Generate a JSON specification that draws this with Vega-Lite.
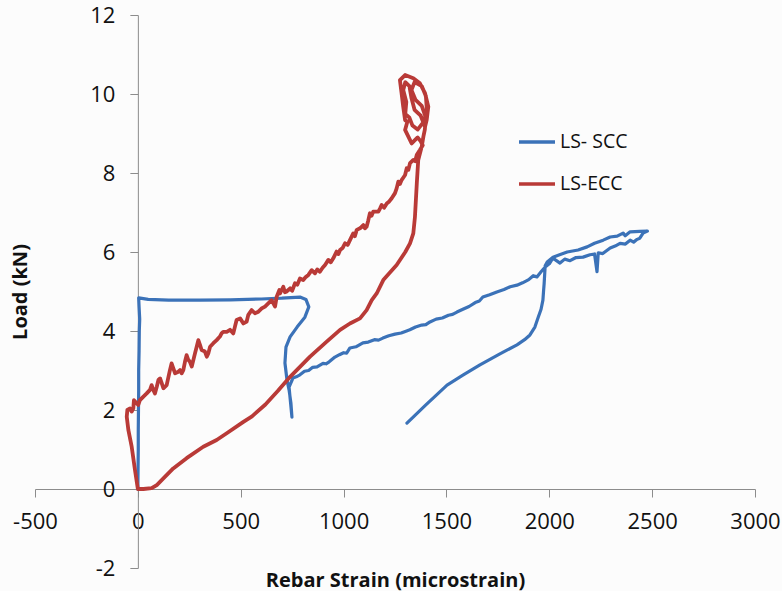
{
  "$schema": "https://vega.github.io/schema/vega-lite/v6.json",
  "width": 720,
  "height": 553,
  "autosize": {"type": "none"},
  "padding": {"left": 35, "top": 15, "right": 27, "bottom": 23},
  "background": "#fcfcfc",
  "config": {"view": {"stroke": null}, "font": "Open Sans"},
  "datasets": {
    "scc": [
      {"strain":0,"load":0},{"strain":1,"load":0.5},{"strain":2,"load":1.0},{"strain":2,"load":1.5},{"strain":3,"load":2.0},{"strain":4,"load":2.5},{"strain":4,"load":3.0},{"strain":6,"load":3.5},{"strain":7,"load":4.0},{"strain":9,"load":4.3},{"strain":6,"load":4.6},{"strain":4,"load":4.84},
      {"strain":50,"load":4.80},{"strain":150,"load":4.78},{"strain":300,"load":4.78},{"strain":450,"load":4.79},{"strain":600,"load":4.81},{"strain":700,"load":4.83},{"strain":788,"load":4.86},{"strain":817,"load":4.80},{"strain":831,"load":4.61},{"strain":812,"load":4.35},{"strain":774,"load":4.10},{"strain":740,"load":3.85},{"strain":720,"load":3.59},{"strain":715,"load":3.19},{"strain":725,"load":2.76},{"strain":735,"load":2.51},{"strain":744,"load":2.18},{"strain":749,"load":1.82},{"strain":742,"load":2.2},{"strain":735,"load":2.58},{"strain":754,"load":2.81},{"strain":770,"load":2.84},{"strain":788,"load":2.89},{"strain":810,"load":2.98},{"strain":830,"load":3.0},{"strain":850,"load":3.08},{"strain":871,"load":3.09},{"strain":900,"load":3.18},{"strain":915,"load":3.17},{"strain":930,"load":3.22},{"strain":958,"load":3.34},{"strain":980,"load":3.40},{"strain":1000,"load":3.45},{"strain":1015,"load":3.44},{"strain":1031,"load":3.57},{"strain":1060,"load":3.60},{"strain":1094,"load":3.70},{"strain":1120,"load":3.72},{"strain":1150,"load":3.78},{"strain":1170,"load":3.77},{"strain":1191,"load":3.82},{"strain":1220,"load":3.88},{"strain":1250,"load":3.92},{"strain":1280,"load":3.95},{"strain":1300,"load":3.99},{"strain":1322,"load":4.03},{"strain":1350,"load":4.10},{"strain":1380,"load":4.15},{"strain":1400,"load":4.16},{"strain":1420,"load":4.23},{"strain":1450,"load":4.30},{"strain":1480,"load":4.33},{"strain":1510,"load":4.40},{"strain":1530,"load":4.42},{"strain":1551,"load":4.48},{"strain":1580,"load":4.55},{"strain":1610,"load":4.62},{"strain":1640,"load":4.72},{"strain":1660,"load":4.76},{"strain":1677,"load":4.86},{"strain":1710,"load":4.92},{"strain":1745,"load":4.99},{"strain":1780,"load":5.05},{"strain":1810,"load":5.12},{"strain":1843,"load":5.16},{"strain":1870,"load":5.22},{"strain":1900,"load":5.30},{"strain":1922,"load":5.40},{"strain":1940,"load":5.37},{"strain":1960,"load":5.50},{"strain":1980,"load":5.62},{"strain":2000,"load":5.70},{"strain":2018,"load":5.85},{"strain":2035,"load":5.78},{"strain":2052,"load":5.72},{"strain":2075,"load":5.82},{"strain":2101,"load":5.78},{"strain":2130,"load":5.86},{"strain":2164,"load":5.87},{"strain":2198,"load":5.93},{"strain":2220,"load":5.95},{"strain":2232,"load":5.50},{"strain":2238,"load":5.98},{"strain":2260,"load":5.96},{"strain":2296,"load":6.10},{"strain":2320,"load":6.15},{"strain":2344,"load":6.22},{"strain":2370,"load":6.20},{"strain":2393,"load":6.30},{"strain":2410,"load":6.25},{"strain":2427,"load":6.32},{"strain":2440,"load":6.35},{"strain":2456,"load":6.48},{"strain":2477,"load":6.53},{"strain":2440,"load":6.52},{"strain":2393,"load":6.51},{"strain":2369,"load":6.41},{"strain":2359,"load":6.48},{"strain":2330,"load":6.40},{"strain":2296,"load":6.38},{"strain":2262,"load":6.30},{"strain":2220,"load":6.22},{"strain":2184,"load":6.13},{"strain":2140,"load":6.05},{"strain":2087,"load":6.0},{"strain":2050,"load":5.93},{"strain":2018,"load":5.87},{"strain":1990,"load":5.75},{"strain":1980,"load":5.65},{"strain":1978,"load":5.47},{"strain":1975,"load":5.2},{"strain":1972,"load":5.0},{"strain":1969,"load":4.78},{"strain":1960,"load":4.55},{"strain":1945,"load":4.33},{"strain":1930,"load":4.10},{"strain":1906,"load":3.90},{"strain":1880,"load":3.78},{"strain":1843,"load":3.65},{"strain":1760,"load":3.42},{"strain":1663,"load":3.14},{"strain":1580,"load":2.88},{"strain":1503,"load":2.63},{"strain":1400,"load":2.13},{"strain":1308,"load":1.67}
    ],
    "ecc": [
      {"strain":0,"load":0},{"strain":-14,"load":0.48},{"strain":-30,"load":1.07},{"strain":-46,"load":1.49},{"strain":-54,"load":1.83},{"strain":-51,"load":2.0},{"strain":-38,"load":2.04},{"strain":-30,"load":1.96},{"strain":-22,"load":2.04},{"strain":-19,"load":2.25},{"strain":-6,"load":2.17},{"strain":2,"load":2.13},{"strain":10,"load":2.25},{"strain":27,"load":2.34},{"strain":43,"load":2.42},{"strain":59,"load":2.51},{"strain":67,"load":2.63},{"strain":75,"load":2.51},{"strain":83,"load":2.42},{"strain":92,"load":2.59},{"strain":100,"load":2.76},{"strain":108,"load":2.80},{"strain":116,"load":2.68},{"strain":124,"load":2.55},{"strain":140,"load":2.63},{"strain":156,"load":3.01},{"strain":164,"load":3.18},{"strain":172,"load":3.06},{"strain":181,"load":2.93},{"strain":197,"load":2.97},{"strain":205,"load":3.01},{"strain":213,"load":2.93},{"strain":221,"load":3.01},{"strain":229,"load":3.22},{"strain":237,"load":3.39},{"strain":245,"load":3.27},{"strain":253,"load":3.22},{"strain":262,"load":3.10},{"strain":270,"load":3.27},{"strain":278,"load":3.44},{"strain":286,"load":3.60},{"strain":294,"load":3.77},{"strain":302,"load":3.65},{"strain":310,"load":3.52},{"strain":326,"load":3.48},{"strain":335,"load":3.35},{"strain":343,"load":3.44},{"strain":351,"load":3.60},{"strain":367,"load":3.69},{"strain":383,"load":3.77},{"strain":399,"load":3.86},{"strain":407,"load":3.94},{"strain":415,"load":3.98},{"strain":432,"load":3.98},{"strain":448,"load":4.03},{"strain":464,"load":3.94},{"strain":472,"load":4.11},{"strain":480,"load":4.28},{"strain":497,"load":4.32},{"strain":513,"load":4.19},{"strain":529,"load":4.24},{"strain":537,"load":4.41},{"strain":553,"load":4.53},{"strain":569,"load":4.45},{"strain":586,"load":4.49},{"strain":602,"load":4.57},{"strain":618,"load":4.62},{"strain":634,"load":4.70},{"strain":650,"load":4.78},{"strain":667,"load":4.62},{"strain":675,"load":4.87},{"strain":688,"load":5.04},{"strain":691,"load":4.95},{"strain":707,"load":5.12},{"strain":715,"load":4.98},{"strain":723,"load":5.0},{"strain":740,"load":5.08},{"strain":750,"load":5.02},{"strain":764,"load":5.21},{"strain":775,"load":5.17},{"strain":788,"load":5.33},{"strain":804,"load":5.29},{"strain":815,"load":5.36},{"strain":829,"load":5.42},{"strain":845,"load":5.54},{"strain":861,"load":5.46},{"strain":872,"load":5.56},{"strain":885,"load":5.50},{"strain":898,"load":5.60},{"strain":910,"load":5.67},{"strain":926,"load":5.80},{"strain":938,"load":5.74},{"strain":950,"load":5.84},{"strain":966,"load":6.01},{"strain":975,"load":5.95},{"strain":983,"load":6.05},{"strain":995,"load":6.10},{"strain":1007,"load":6.22},{"strain":1020,"load":6.18},{"strain":1031,"load":6.30},{"strain":1047,"load":6.47},{"strain":1055,"load":6.40},{"strain":1064,"load":6.56},{"strain":1080,"load":6.60},{"strain":1096,"load":6.68},{"strain":1104,"load":6.60},{"strain":1112,"load":6.64},{"strain":1120,"load":6.80},{"strain":1128,"load":6.98},{"strain":1136,"load":6.92},{"strain":1144,"load":7.02},{"strain":1169,"load":7.02},{"strain":1177,"load":7.10},{"strain":1185,"load":7.19},{"strain":1197,"load":7.12},{"strain":1210,"load":7.23},{"strain":1222,"load":7.28},{"strain":1234,"load":7.36},{"strain":1250,"load":7.49},{"strain":1258,"load":7.61},{"strain":1266,"load":7.78},{"strain":1274,"load":7.72},{"strain":1282,"load":7.82},{"strain":1290,"load":7.88},{"strain":1299,"load":7.95},{"strain":1307,"load":8.12},{"strain":1315,"load":8.08},{"strain":1323,"load":8.25},{"strain":1339,"load":8.33},{"strain":1348,"load":8.30},{"strain":1356,"load":8.46},{"strain":1371,"load":8.58},{"strain":1385,"load":8.70},{"strain":1375,"load":8.80},{"strain":1360,"load":8.9},{"strain":1331,"load":8.75},{"strain":1315,"load":8.92},{"strain":1299,"load":9.09},{"strain":1310,"load":9.3},{"strain":1299,"load":9.34},{"strain":1290,"load":9.68},{"strain":1282,"load":10.02},{"strain":1274,"load":10.35},{"strain":1299,"load":10.48},{"strain":1339,"load":10.40},{"strain":1371,"load":10.27},{"strain":1396,"load":10.02},{"strain":1412,"load":9.68},{"strain":1404,"load":9.34},{"strain":1396,"load":9.17},{"strain":1375,"load":9.45},{"strain":1345,"load":9.6},{"strain":1330,"load":9.9},{"strain":1320,"load":10.2},{"strain":1300,"load":10.3},{"strain":1290,"load":10.1},{"strain":1305,"load":9.8},{"strain":1300,"load":9.5},{"strain":1320,"load":9.4},{"strain":1335,"load":9.2},{"strain":1360,"load":9.1},{"strain":1390,"load":9.3},{"strain":1405,"load":9.6},{"strain":1400,"load":9.95},{"strain":1380,"load":10.2},{"strain":1345,"load":10.3},{"strain":1330,"load":10.1},{"strain":1350,"load":9.85},{"strain":1380,"load":9.7},{"strain":1400,"load":9.4},{"strain":1395,"load":9.1},{"strain":1388,"load":8.92},{"strain":1380,"load":8.67},{"strain":1363,"load":8.33},{"strain":1356,"load":7.74},{"strain":1347,"load":6.89},{"strain":1339,"load":6.47},{"strain":1323,"load":6.22},{"strain":1300,"load":6.0},{"strain":1258,"load":5.67},{"strain":1220,"load":5.45},{"strain":1193,"load":5.29},{"strain":1161,"load":4.95},{"strain":1137,"load":4.78},{"strain":1112,"load":4.53},{"strain":1080,"load":4.32},{"strain":1031,"load":4.19},{"strain":983,"load":4.03},{"strain":918,"load":3.73},{"strain":837,"load":3.35},{"strain":740,"load":2.84},{"strain":680,"load":2.48},{"strain":620,"load":2.14},{"strain":555,"load":1.84},{"strain":513,"load":1.70},{"strain":432,"load":1.41},{"strain":383,"load":1.24},{"strain":318,"load":1.07},{"strain":237,"load":0.78},{"strain":172,"load":0.52},{"strain":124,"load":0.27},{"strain":92,"load":0.10},{"strain":67,"load":0.02},{"strain":27,"load":0.0},{"strain":10,"load":0.0}
    ]
  },
  "layer": [
    {
      "data": {"name": "scc"},
      "mark": {"type": "line", "strokeWidth": 3.2, "strokeJoin": "round", "strokeCap": "round"},
      "encoding": {
        "x": {"field": "strain", "type": "quantitative"},
        "y": {"field": "load", "type": "quantitative"},
        "order": {"value": null},
        "color": {"datum": "LS- SCC", "type": "nominal"}
      }
    },
    {
      "data": {"name": "ecc"},
      "mark": {"type": "line", "strokeWidth": 3.8, "strokeJoin": "round", "strokeCap": "round"},
      "encoding": {
        "x": {"field": "strain", "type": "quantitative"},
        "y": {"field": "load", "type": "quantitative"},
        "order": {"value": null},
        "color": {"datum": "LS-ECC", "type": "nominal"}
      }
    }
  ],
  "encoding": {
    "x": {
      "field": "strain", "type": "quantitative",
      "scale": {"domain": [-500, 3000], "nice": false, "zero": false},
      "axis": {
        "title": "Rebar Strain (microstrain)",
        "values": [-500, 0, 500, 1000, 1500, 2000, 2500, 3000],
        "labelExpr": "datum.value + ''",
        "offset": -79, "grid": false,
        "domainColor": "#8c8c8c", "tickColor": "#8c8c8c", "tickSize": 8,
        "labelFont": "Open Sans", "labelFontSize": 22, "labelColor": "#111",
        "labelBaseline": "middle", "labelPadding": 24, "labelFlush": false, "labelOverlap": false,
        "titleFont": "Open Sans", "titleFontSize": 20, "titleFontWeight": "bold", "titleColor": "#111",
        "titleX": 360, "titleY": 91, "titleBaseline": "middle", "titleAlign": "center"
      }
    },
    "y": {
      "field": "load", "type": "quantitative",
      "scale": {"domain": [-2, 12], "nice": false, "zero": false},
      "axis": {
        "title": "Load (kN)",
        "values": [-2, 0, 2, 4, 6, 8, 10, 12],
        "labelExpr": "datum.value + ''",
        "offset": -102.86, "grid": false,
        "domainColor": "#8c8c8c", "tickColor": "#8c8c8c", "tickSize": 8,
        "labelFont": "Open Sans", "labelFontSize": 22, "labelColor": "#111",
        "labelPadding": 15, "labelFlush": false, "labelOverlap": false,
        "titleFont": "Open Sans", "titleFontSize": 20, "titleFontWeight": "bold", "titleColor": "#111",
        "titleX": -117, "titleY": 276.5, "titleAngle": -90, "titleBaseline": "middle", "titleAlign": "center"
      }
    },
    "color": {
      "type": "nominal",
      "scale": {"domain": ["LS- SCC", "LS-ECC"], "range": ["#3b72b8", "#b93a37"]},
      "legend": {
        "title": null, "orient": "none", "legendX": 482, "legendY": 107,
        "symbolType": "stroke", "symbolSize": 1296, "symbolStrokeWidth": 3.5,
        "labelFont": "Open Sans", "labelFontSize": 19.5, "labelColor": "#111", "labelOffset": 3,
        "rowPadding": 12
      }
    }
  }
}
